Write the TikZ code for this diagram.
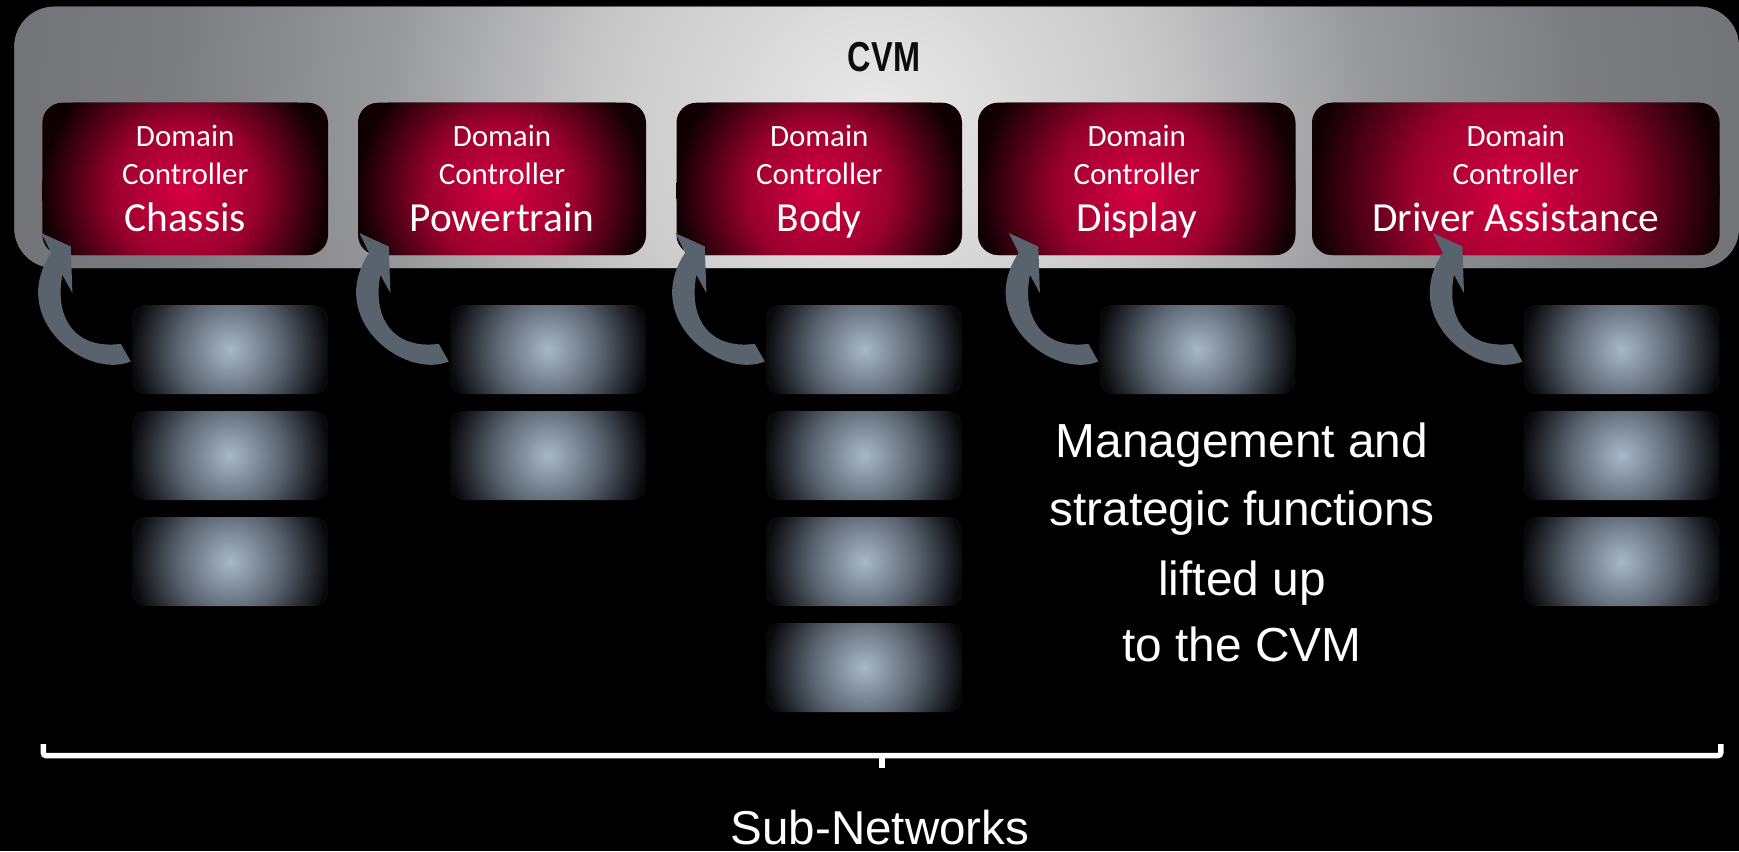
\documentclass[tikz,border=0pt]{standalone}
\usepackage{fontspec}
\usepackage{graphicx}
\setmainfont{Carlito}
\newfontfamily\arialf{Liberation Sans}
\usetikzlibrary{calc}
\definecolor{cvmlight}{RGB}{234,234,234}
\definecolor{cvmmid1}{RGB}{200,200,201}
\definecolor{cvmmid2}{RGB}{152,153,155}
\definecolor{cvmmid3}{RGB}{124,125,129}
\definecolor{cvmdark}{RGB}{114,115,119}
\definecolor{dcred}{RGB}{216,0,66}
\definecolor{dcmid1}{RGB}{155,0,46}
\definecolor{dcmid2}{RGB}{72,0,20}
\definecolor{dcdark}{RGB}{16,0,4}
\definecolor{sbcent}{RGB}{168,184,200}
\definecolor{sbmid}{RGB}{92,102,114}
\definecolor{sbdark}{RGB}{8,9,11}
\definecolor{arrc}{RGB}{88,99,110}
% in a shaded path the square [-25bp,25bp] of the shading covers the path's bounding box
\pgfdeclareradialshading{cvmglow}{\pgfpoint{0bp}{0bp}}{color(0bp)=(cvmlight); color(8bp)=(cvmmid1); color(14bp)=(cvmmid2); color(20bp)=(cvmmid3); color(25bp)=(cvmdark); color(50bp)=(cvmdark)}
\pgfdeclareradialshading{redglow}{\pgfpoint{0bp}{0bp}}{color(0bp)=(dcred); color(12.5bp)=(dcmid1); color(20bp)=(dcmid2); color(25bp)=(dcdark); color(50bp)=(dcdark)}
\pgfdeclareradialshading{subglow}{\pgfpoint{0bp}{0bp}}{color(0bp)=(sbcent); color(13bp)=(sbmid); color(25bp)=(sbdark); color(50bp)=(sbdark)}
\tikzset{
  cvmbox/.style={rectangle, rounded corners=40pt, minimum width=1724.7pt, minimum height=261.3pt, inner sep=0pt, fill=cvmdark,
    path picture={\shade[shading=cvmglow] ([yshift=10pt]path picture bounding box.center) circle (880pt);}},
  redbox/.style={rectangle, rounded corners=20pt, minimum width=#1, minimum height=152.3pt, inner sep=0pt, fill=dcdark,
    path picture={\shade[shading=redglow] ([yshift=-12pt]path picture bounding box.center) circle ({#1/2});}},
  subbox/.style={rectangle, rounded corners=12pt, minimum width=196pt, minimum height=89pt, inner sep=0pt, fill=sbdark,
    path picture={\shade[shading=subglow] (path picture bounding box.center) circle (99pt);}},
  dcsmall/.style={text=white, inner sep=0pt, anchor=base, font=\fontsize{31}{31}\selectfont},
  dcbig/.style={text=white, inner sep=0pt, anchor=base, font=\fontsize{41.4}{41.4}\selectfont},
  arialtext/.style={text=white, inner sep=0pt, anchor=base, font=\arialf\fontsize{47.8}{48}\selectfont},
  bracketline/.style={draw=white, line width=5.5pt},
  liftarrow/.style={fill=arrc}
}
\begin{document}
\begin{tikzpicture}[x=1pt, y=-1pt]
\useasboundingbox (0,0) rectangle (1739,851);
\fill[black] (0,0) rectangle (1739,851);
% CVM container
\node[cvmbox] (cvm) at (876.65,137.35) {};
\node[inner sep=0pt, anchor=base, text={rgb,255:red,12;green,12;blue,12}] (cvmtitle) at (884,71.7)
  {\arialf\bfseries\fontsize{41.9}{42}\selectfont\scalebox{0.774}[1]{CVM}};
% domain controllers
\foreach \i/\cx/\w/\lbl in {1/185.2/285.6/Chassis, 2/502/288/Powertrain, 3/819.25/285.5/Body, 4/1136.75/317.5/Display, 5/1515.8/407.6/Driver Assistance} {
  \node[redbox={\w pt}] (dc\i) at (\cx,178.85) {};
  \node[dcsmall] (dcd\i) at (\cx,146.7) {Domain};
  \node[dcsmall] (dcc\i) at (\cx,184) {Controller};
  \node[dcbig] (dcn\i) at (\cx,231.7) {\lbl};
}
% sub-network ECUs and lift arrows
\foreach \c/\cx/\n in {1/230/3, 2/548/2, 3/864/4, 4/1197.5/1, 5/1621.6/3} {
  \foreach \r in {1,...,\n} {
    \node[subbox] (s\c\r) at (\cx,{305+106*(\r-1)+44.5}) {};
  }
  \fill[liftarrow, shift={(s\c1.north west)}]
    (-90.4,-71.7) -- (-61,-58.3) -- (-59.4,-11.7) -- (-69.4,-30)
    .. controls (-78,15) and (-55,45) .. (-11,39)
    -- (-1,56.7)
    .. controls (-45,75) and (-125,15) .. (-80.7,-52) -- cycle;
}
% explanation text
\node[arialtext] (m1) at (1242,457.3) {Management and};
\node[arialtext] (m2) at (1242,525) {strategic functions};
\node[arialtext] (m3) at (1242,595) {lifted up};
\node[arialtext] (m4) at (1242,661.7) {to the CVM};
% bracket
\coordinate (bl) at (43.3,744);
\coordinate (blc) at (43.3,755.7);
\coordinate (brc) at (1720.8,755.7);
\coordinate (br) at (1720.8,744);
\coordinate (bm) at (882,755.7);
\coordinate (bt) at (882,767.7);
\draw[bracketline, rounded corners=3pt] (bl) -- (blc) -- (brc) -- (br);
\draw[bracketline] (bm) -- (bt);
\node[arialtext, font=\arialf\fontsize{47.5}{48}\selectfont] (subnet) at (880,844) {Sub-Networks};
\end{tikzpicture}
\end{document}
